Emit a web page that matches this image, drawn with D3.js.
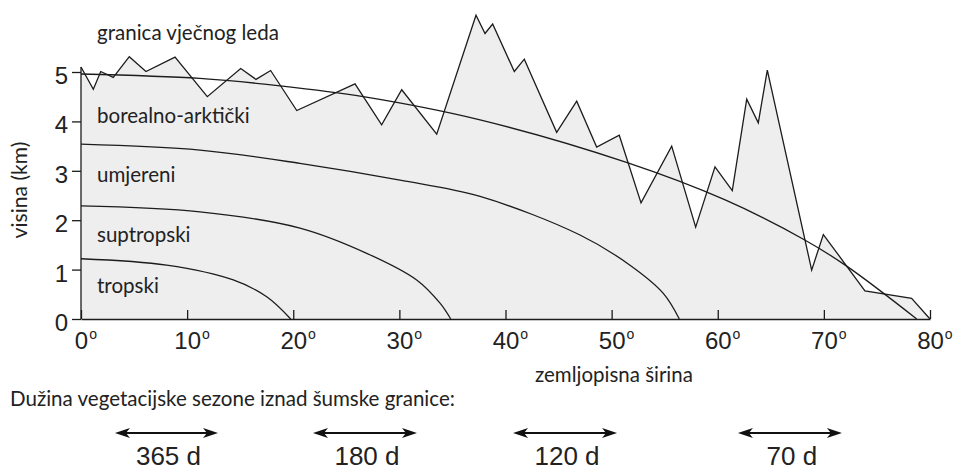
<!DOCTYPE html>
<html><head><meta charset="utf-8">
<script src="https://cdn.jsdelivr.net/npm/d3@7"></script>
<style>
html,body{margin:0;padding:0;background:#fff;}
svg{display:block;}
</style></head><body>
<svg id="c" width="958" height="471"></svg>
<script>
// ---------- data ----------
const latTicks = [0, 10, 20, 30, 40, 50, 60, 70, 80];
const heightTicks = [0, 1, 2, 3, 4, 5];

// jagged profile (granica vječnog leda)
const profileLat = [0, 1.16, 1.86, 3.04, 4.55, 6.12, 8.86, 11.90, 15.05, 16.49, 17.87, 20.33, 25.82, 28.33, 30.22, 33.52, 37.22, 38.07, 38.79, 40.83, 41.77, 44.82, 46.71, 48.59, 50.72, 52.77, 55.66, 57.92, 59.74, 61.37, 62.73, 63.82, 64.67, 68.85, 69.95, 73.87, 78.27, 80];
const profileKm  = [5.1, 4.65, 5.01, 4.89, 5.31, 5.01, 5.30, 4.50, 5.07, 4.85, 5.03, 4.22, 4.76, 3.93, 4.64, 3.74, 6.15, 5.78, 5.97, 5.01, 5.26, 3.78, 4.41, 3.48, 3.72, 2.35, 3.50, 1.86, 3.08, 2.60, 4.45, 3.97, 5.04, 0.99, 1.71, 0.57, 0.42, 0];

// smooth zone boundaries
const borealLat = [0, 11.2, 18.75, 26.6, 37.6, 51.4, 60.7, 68.2, 72.15, 78.75];
const borealKm  = [4.96, 4.87, 4.72, 4.50, 4.03, 3.17, 2.41, 1.60, 1.07, 0];
const temperateLat = [0, 11.21, 20.63, 30.06, 37.6, 47.02, 51.73, 54.87, 56.38];
const temperateKm  = [3.54, 3.42, 3.15, 2.81, 2.48, 1.70, 1.09, 0.52, 0];
const subtropLat = [0, 11.21, 20.63, 26.92, 31.63, 33.83, 34.84];
const subtropKm  = [2.29, 2.17, 1.84, 1.33, 0.79, 0.32, 0];
const tropLat = [0, 8.07, 14.35, 17.5, 19.76];
const tropKm  = [1.22, 1.09, 0.79, 0.45, 0];

const zoneLabels = ["granica vječnog leda", "borealno-arktički", "umjereni", "suptropski", "tropski"];

// vegetation season arrows (latitude extents)
const seasonFrom = [3.20, 21.86, 40.71, 61.90];
const seasonTo   = [12.91, 31.66, 50.51, 71.70];
const seasonLabels = ["365 d", "180 d", "120 d", "70 d"];

const xTitle = "zemljopisna širina";
const yTitle = "visina (km)";
const noteText = "Dužina vegetacijske sezone iznad šumske granice:";

// ---------- layout ----------
const svg = d3.select('#c');
const x = d3.scaleLinear().domain([0, 80]).range([81, 930]);
const y = d3.scaleLinear().domain([0, 5]).range([319, 72]);
const ink = '#1c1c1c';
const sansLabel = "Lato, 'Open Sans', sans-serif";
const sansNum = "'Liberation Sans', Arial, sans-serif";

function fit(t, w) {
  const L = t.node().getComputedTextLength();
  const fs = parseFloat(t.attr('font-size'));
  t.attr('font-size', (fs * w / L).toFixed(2));
}

const profile = profileLat.map((d, i) => [d, profileKm[i]]);

// fill under profile
svg.append('path').datum(profile)
  .attr('d', d3.area().x(d => x(d[0])).y0(y(0)).y1(d => y(d[1])))
  .attr('fill', '#eeeeee');

// zone curves
const curveGen = d3.line().x(d => x(d[0])).y(d => y(d[1])).curve(d3.curveCatmullRom.alpha(0.5));
[[borealLat, borealKm], [temperateLat, temperateKm], [subtropLat, subtropKm], [tropLat, tropKm]].forEach(([la, km]) => {
  svg.append('path').datum(la.map((d, i) => [d, km[i]]))
    .attr('d', curveGen).attr('fill', 'none').attr('stroke', ink).attr('stroke-width', 1.3);
});

// profile line
svg.append('path').datum(profile)
  .attr('d', d3.line().x(d => x(d[0])).y(d => y(d[1])))
  .attr('fill', 'none').attr('stroke', ink).attr('stroke-width', 1.3).attr('stroke-linejoin', 'miter');

// x axis
const gx = svg.append('g').attr('transform', `translate(0,${y(0)})`)
  .call(d3.axisBottom(x).tickValues(latTicks).tickSizeInner(-9).tickSizeOuter(0).tickPadding(13).tickFormat(d => String(d)));
gx.attr('font-family', sansNum).attr('font-size', 24);
gx.select('.domain').attr('stroke', ink).attr('stroke-width', 1.3);
gx.selectAll('.tick line').attr('stroke', ink).attr('stroke-width', 1.3);
gx.selectAll('.tick text').attr('fill', '#222');
gx.selectAll('.tick').each(function () {
  const g = d3.select(this);
  const w = g.select('text').node().getComputedTextLength();
  g.append('text').attr('x', w / 2 + 1).attr('y', 20).attr('text-anchor', 'start')
    .attr('font-size', 14).attr('fill', '#222').text('o');
});

// y axis
const gy = svg.append('g').attr('transform', `translate(${x(0)},0)`)
  .call(d3.axisLeft(y).tickValues(heightTicks).tickSizeInner(9).tickSizeOuter(0).tickPadding(4).tickFormat(d => String(d)));
gy.attr('font-family', sansNum).attr('font-size', 24);
gy.select('.domain').remove();
gy.selectAll('.tick line').attr('stroke', ink).attr('stroke-width', 1.3);
gy.selectAll('.tick text').attr('fill', '#222').attr('dy', '0.48em');
svg.append('line').attr('x1', x(0)).attr('x2', x(0)).attr('y1', y(0)).attr('y2', y(profileKm[0]))
  .attr('stroke', ink).attr('stroke-width', 1.3);

// axis titles and note
const xt = svg.append('text').attr('x', 535).attr('y', 382).attr('font-family', sansLabel)
  .attr('font-size', 19).attr('fill', '#222').text(xTitle);
fit(xt, 158);
const yt = svg.append('text').attr('transform', 'translate(27,190) rotate(-90)').attr('text-anchor', 'middle')
  .attr('font-family', sansLabel).attr('font-size', 19).attr('fill', '#222').text(yTitle);
fit(yt, 97);
const nt = svg.append('text').attr('x', 10).attr('y', 406).attr('font-family', sansLabel)
  .attr('font-size', 19).attr('fill', '#222').text(noteText);
fit(nt, 445);
const common = parseFloat(nt.attr('font-size'));

// zone labels
const zoneBase = [40, 123, 182, 242, 293];
zoneLabels.forEach((t, i) => {
  svg.append('text').attr('x', 97).attr('y', zoneBase[i])
    .attr('font-family', sansLabel).attr('font-size', common).attr('fill', '#222').text(t);
});

// season arrows
const ay = 433;
seasonFrom.forEach((f, i) => {
  const x1 = x(f), x2 = x(seasonTo[i]);
  svg.append('line').attr('x1', x1 + 6).attr('x2', x2 - 6).attr('y1', ay).attr('y2', ay)
    .attr('stroke', '#111').attr('stroke-width', 2);
  svg.append('path').attr('d', `M${x1},${ay} L${x1 + 15},${ay - 5} L${x1 + 11},${ay} L${x1 + 15},${ay + 5} Z`).attr('fill', '#111');
  svg.append('path').attr('d', `M${x2},${ay} L${x2 - 15},${ay - 5} L${x2 - 11},${ay} L${x2 - 15},${ay + 5} Z`).attr('fill', '#111');
  svg.append('text').attr('x', (x1 + x2) / 2 + 2).attr('y', 465).attr('text-anchor', 'middle')
    .attr('font-family', sansNum).attr('font-size', 26).attr('fill', '#222').text(seasonLabels[i]);
});
</script>
</body></html>
